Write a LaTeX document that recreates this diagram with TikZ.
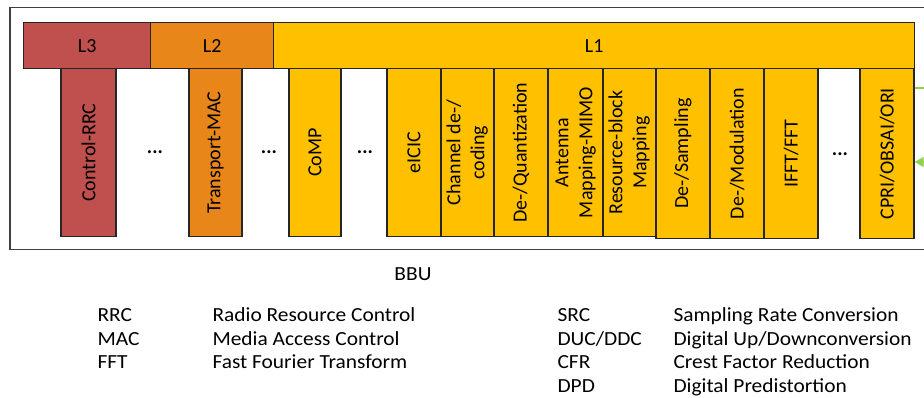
\documentclass[tikz,border=0pt]{standalone}
\usepackage{fontspec}
\setmainfont{Carlito}
\newfontfamily\legendfont[FakeStretch=1.07]{Carlito}
\usetikzlibrary{arrows.meta}
\definecolor{rrcred}{HTML}{C0504D}
\definecolor{macorange}{HTML}{E8861A}
\definecolor{phygold}{HTML}{FFC000}
\definecolor{linkgreen}{HTML}{92D050}
\definecolor{framegray}{HTML}{404040}

\begin{document}
\begin{tikzpicture}[
	x=1pt, y=-1pt,
	font=\fontsize{20}{24}\selectfont,
	bar/.style={draw=black!85, line width=1.3pt, anchor=north west, minimum height=46pt, inner sep=0pt},
	blk/.style={draw=black!85, line width=1.3pt, anchor=north, minimum width=54pt, minimum height=168pt, inner sep=0pt},
	tall/.style={minimum height=170pt},
	lthree/.style={fill=rrcred},
	ltwo/.style={fill=macorange},
	lone/.style={fill=phygold},
	dots/.style={font=\fontsize{20}{24}\selectfont\bfseries},
	abbr/.style={anchor=base west, font=\fontsize{20}{24}\legendfont},
	link/.style={draw=linkgreen, line width=1.5pt},
	]
\useasboundingbox (0,0) rectangle (924,398);
\clip (0,0) rectangle (924,398);

% BBU frame
\node [draw=framegray, line width=1.5pt, anchor=north west, minimum width=940pt, minimum height=242pt, inner sep=0pt] (bbubox) at (9,7) {};
\node [abbr, anchor=base] (bbulbl) at (413,280) {BBU};

% layers
\node [bar, lthree, minimum width=127pt] (lthreebar) at (23,22) {L3};
\node [bar, ltwo, minimum width=123pt] (ltwobar) at (150,22) {L2};
\node [bar, lone, minimum width=641pt] (lonebar) at (273,22) {L1};

% functions
\node [blk, lthree, minimum width=55pt] (rrc) at (88.5,68) {\rotatebox{90}{Control-RRC}};
\node [dots] (dotsa) at (155,152) {...};
\node [blk, ltwo, minimum width=53pt] (mac) at (215.5,68) {\rotatebox{90}{Transport-MAC}};
\node [dots] (dotsb) at (269,152) {...};
\node [blk, lone, minimum width=52pt] (comp) at (315,68) {\rotatebox{90}{CoMP}};
\node [dots] (dotsc) at (365,152) {...};
\node [blk, lone] (eicic) at (414,68) {\rotatebox{90}{eICIC}};
\node [blk, lone, minimum width=53pt] (chan) at (467.5,68) {\rotatebox{90}{\begin{tabular}{@{}c@{}}Channel de-/\\coding\end{tabular}}};
\node [blk, lone] (quant) at (521,68) {\rotatebox{90}{De-/Quantization}};
\node [blk, lone, minimum width=55pt] (mimo) at (575.5,68) {\rotatebox{90}{\begin{tabular}{@{}c@{}}Antenna\\Mapping-MIMO\end{tabular}}};
\node [blk, lone, minimum width=53pt] (rbm) at (629.5,68) {\rotatebox{90}{\begin{tabular}{@{}c@{}}Resource-block\\Mapping\end{tabular}}};
\node [blk, tall, lone] (samp) at (683,68) {\rotatebox{90}{De-/Sampling}};
\node [blk, tall, lone] (modu) at (737,68) {\rotatebox{90}{De-/Modulation}};
\node [blk, tall, lone] (fft) at (791,68) {\rotatebox{90}{IFFT/FFT}};
\node [dots] (dotsd) at (840,154) {...};
\node [blk, tall, lone] (cpri) at (887,68) {\rotatebox{90}{CPRI/OBSAI/ORI}};

% links leaving the picture
\coordinate (outa) at (940,88);
\coordinate (outb) at (940,162);
\draw [link] (cpri.east |- outa) -- (outa);
\draw [link, {Triangle[length=9pt,width=10pt]}-] (cpri.east |- outb) -- (outb);

% legend
\node [abbr] (rrcabbr) at (94,321.5) {RRC};
\node [abbr] (rrcdef) at (209,321.5) {Radio Resource Control};
\node [abbr] (macabbr) at (94,345) {MAC};
\node [abbr] (macdef) at (209,345) {Media Access Control};
\node [abbr] (fftabbr) at (94,368.5) {FFT};
\node [abbr] (fftdef) at (209,368.5) {Fast Fourier Transform};
\node [abbr] (srcabbr) at (554,321.5) {SRC};
\node [abbr] (srcdef) at (670,321.5) {Sampling Rate Conversion};
\node [abbr] (ducabbr) at (554,345) {DUC/DDC};
\node [abbr] (ducdef) at (670,345) {Digital Up/Downconversion};
\node [abbr] (cfrabbr) at (554,368.5) {CFR};
\node [abbr] (cfrdef) at (670,368.5) {Crest Factor Reduction};
\node [abbr] (dpdabbr) at (554,392) {DPD};
\node [abbr] (dpddef) at (670,392) {Digital Predistortion};
\end{tikzpicture}
\end{document}
